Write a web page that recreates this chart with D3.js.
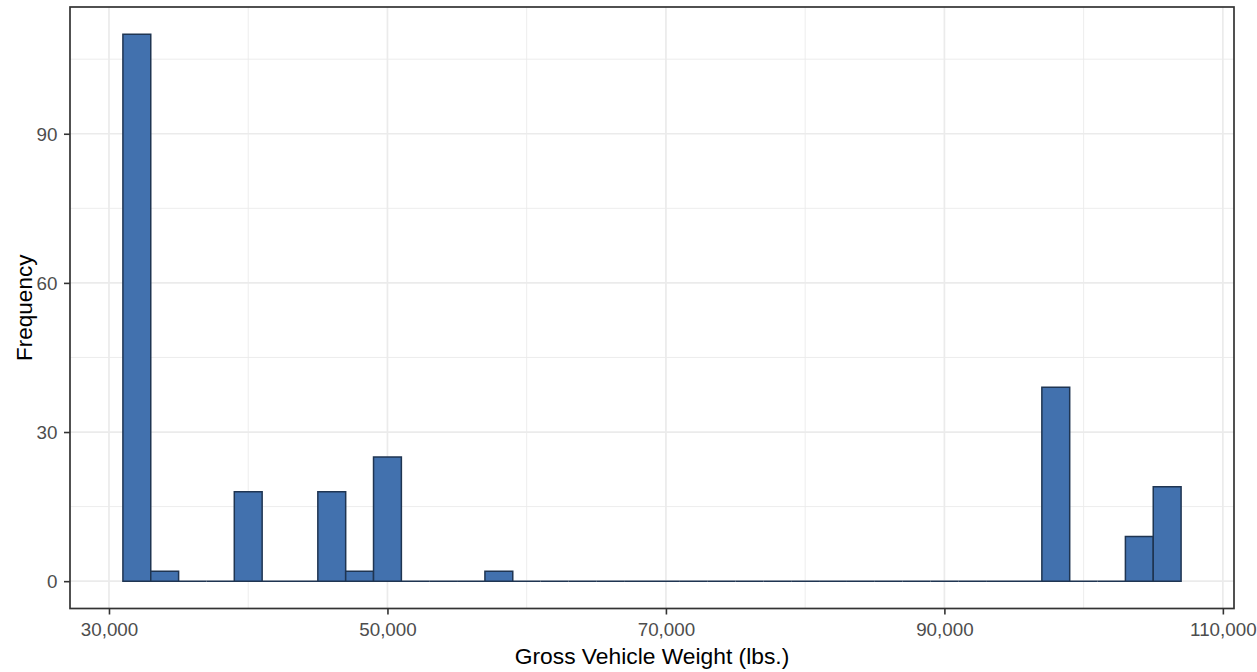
<!DOCTYPE html>
<html>
<head>
<meta charset="utf-8">
<script src="https://cdn.jsdelivr.net/npm/d3@7"></script>
<style>
  html, body { margin: 0; padding: 0; background: #ffffff; overflow: hidden; }
  svg { display: block; }
  text { font-family: "Liberation Sans", Arial, sans-serif; }
</style>
</head>
<body>
<svg id="chart" width="1257" height="672"></svg>
<script>
// ---- data ----
const binStarts = [31000, 33000, 35000, 37000, 39000, 41000, 43000, 45000, 47000, 49000,
                   51000, 53000, 55000, 57000, 59000, 61000, 63000, 65000, 67000, 69000,
                   71000, 73000, 75000, 77000, 79000, 81000, 83000, 85000, 87000, 89000,
                   91000, 93000, 95000, 97000, 99000, 101000, 103000, 105000];
const binWidth = 2000;
const counts = [110, 2, 0, 0, 18, 0, 0, 18, 2, 25,
                0, 0, 0, 2, 0, 0, 0, 0, 0, 0,
                0, 0, 0, 0, 0, 0, 0, 0, 0, 0,
                0, 0, 0, 39, 0, 0, 9, 19];
const xTicks = [30000, 50000, 70000, 90000, 110000];
const xMinor = [40000, 60000, 80000, 100000];
const yTicks = [0, 30, 60, 90];
const yMinor = [15, 45, 75, 105];
const xTitle = "Gross Vehicle Weight (lbs.)";
const yTitle = "Frequency";

// ---- layout ----
const panel = { left: 70, right: 1234, top: 7, bottom: 608.5 };
const svg = d3.select("#chart");

const xLo = binStarts[0], xHi = binStarts[binStarts.length - 1] + binWidth;
const xPad = (xHi - xLo) * 0.05;
const x = d3.scaleLinear().domain([xLo - xPad, xHi + xPad]).range([panel.left, panel.right]);
const yMax = d3.max(counts);
const y = d3.scaleLinear().domain([-yMax * 0.05, yMax * 1.05]).range([panel.bottom, panel.top]);

const bins = binStarts.map((s, i) => ({ x0: s, x1: s + binWidth, n: counts[i] }));

// panel background
svg.append("rect").attr("x", panel.left).attr("y", panel.top)
  .attr("width", panel.right - panel.left).attr("height", panel.bottom - panel.top)
  .attr("fill", "#ffffff");

const grid = svg.append("g");
// minor grid
grid.selectAll(".vminor").data(xMinor).enter().append("line")
  .attr("x1", d => x(d)).attr("x2", d => x(d)).attr("y1", panel.top).attr("y2", panel.bottom)
  .attr("stroke", "#EBEBEB").attr("stroke-width", 0.9);
grid.selectAll(".hminor").data(yMinor).enter().append("line")
  .attr("y1", d => y(d)).attr("y2", d => y(d)).attr("x1", panel.left).attr("x2", panel.right)
  .attr("stroke", "#EBEBEB").attr("stroke-width", 0.9);
// major grid
grid.selectAll(".vmajor").data(xTicks).enter().append("line")
  .attr("x1", d => x(d)).attr("x2", d => x(d)).attr("y1", panel.top).attr("y2", panel.bottom)
  .attr("stroke", "#EBEBEB").attr("stroke-width", 1.7);
grid.selectAll(".hmajor").data(yTicks).enter().append("line")
  .attr("y1", d => y(d)).attr("y2", d => y(d)).attr("x1", panel.left).attr("x2", panel.right)
  .attr("stroke", "#EBEBEB").attr("stroke-width", 1.7);

// bars (as paths so zero-count bins still draw their outline)
svg.append("g").selectAll("path").data(bins).enter().append("path")
  .attr("d", d => {
    const a = x(d.x0), b = x(d.x1), t = y(d.n), z = y(0);
    return `M${a},${z}V${t}H${b}V${z}Z`;
  })
  .attr("fill", "#4271AE")
  .attr("stroke", "#1F3552")
  .attr("stroke-width", 1.5)
  .attr("stroke-linejoin", "miter");

// panel border
svg.append("rect").attr("x", panel.left).attr("y", panel.top)
  .attr("width", panel.right - panel.left).attr("height", panel.bottom - panel.top)
  .attr("fill", "none").attr("stroke", "#333333").attr("stroke-width", 1.7);

// axes
const fmt = d3.format(",");
const xAxis = svg.append("g").attr("transform", `translate(0,${panel.bottom})`)
  .call(d3.axisBottom(x).tickValues(xTicks).tickFormat(fmt).tickSize(6).tickPadding(8));
const yAxis = svg.append("g").attr("transform", `translate(${panel.left},0)`)
  .call(d3.axisLeft(y).tickValues(yTicks).tickSize(6).tickPadding(6.5));
[xAxis, yAxis].forEach(a => {
  a.select(".domain").remove();
  a.selectAll(".tick line").attr("stroke", "#333333").attr("stroke-width", 1.6);
  a.selectAll(".tick text").attr("fill", "#4D4D4D")
    .style("font-family", '"Liberation Sans", Arial, sans-serif').style("font-size", "18.8px");
});
yAxis.selectAll(".tick text").attr("dy", "0.36em");

// titles
svg.append("text").attr("x", (panel.left + panel.right) / 2).attr("y", 664)
  .attr("text-anchor", "middle").attr("fill", "#000000")
  .style("font-size", "22.8px").text(xTitle);
svg.append("text")
  .attr("transform", `translate(32,${(panel.top + panel.bottom) / 2}) rotate(-90)`)
  .attr("text-anchor", "middle").attr("fill", "#000000")
  .style("font-size", "22.5px").text(yTitle);
</script>
</body>
</html>
